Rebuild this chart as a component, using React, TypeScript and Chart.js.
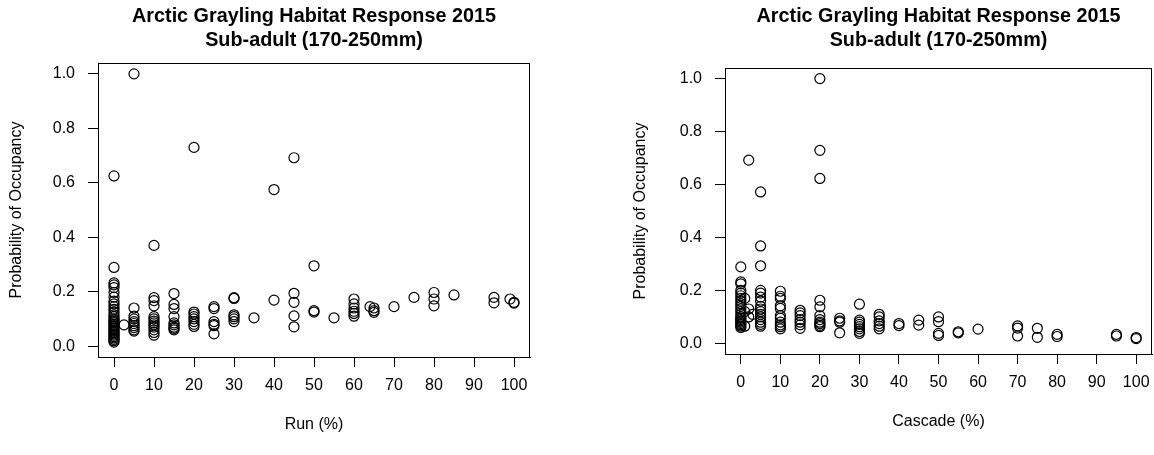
import React, { useEffect, useRef } from "react";
import { Chart, registerables } from "chart.js";

Chart.register(...registerables);

const FONT = '"Liberation Sans", Arial, Helvetica, sans-serif';

const titleLines = ["Arctic Grayling Habitat Response 2015", "Sub-adult (170-250mm)"];
const yAxisTitle = "Probability of Occupancy";
const runTitle = "Run (%)";
const cascadeTitle = "Cascade (%)";
const xTicks = [0, 10, 20, 30, 40, 50, 60, 70, 80, 90, 100];
const yTicks = [0, 0.2, 0.4, 0.6, 0.8, 1.0];

// Run (%) panel: x levels and the probabilities observed at each level
const runLevels = [0, 2.5, 5, 10, 15, 20, 25, 30, 35, 40, 45, 50, 55, 60, 64, 65, 70, 75, 80, 85, 95, 99, 100];
const runProbs = [
  [0.625, 0.289, 0.232, 0.225, 0.215, 0.197, 0.18, 0.165, 0.155, 0.145, 0.135, 0.125, 0.115, 0.108, 0.1, 0.095, 0.09, 0.085, 0.08, 0.075, 0.07, 0.065, 0.06, 0.055, 0.05, 0.045, 0.04, 0.035, 0.03, 0.025, 0.02, 0.015],
  [0.078],
  [1.0, 0.14, 0.11, 0.1, 0.09, 0.083, 0.075, 0.068, 0.06, 0.055],
  [0.37, 0.178, 0.167, 0.148, 0.108, 0.1, 0.092, 0.085, 0.078, 0.07, 0.06, 0.05, 0.04],
  [0.193, 0.153, 0.138, 0.108, 0.085, 0.078, 0.07, 0.065, 0.06],
  [0.73, 0.125, 0.118, 0.108, 0.1, 0.09, 0.08, 0.072],
  [0.145, 0.138, 0.09, 0.08, 0.075, 0.045],
  [0.178, 0.175, 0.115, 0.108, 0.1, 0.09],
  [0.104],
  [0.575, 0.169],
  [0.692, 0.194, 0.161, 0.111, 0.071],
  [0.295, 0.13, 0.125],
  [0.104],
  [0.173, 0.155, 0.14, 0.128, 0.12, 0.11],
  [0.145],
  [0.14, 0.13, 0.124],
  [0.145],
  [0.179],
  [0.197, 0.173, 0.148],
  [0.188],
  [0.179, 0.159],
  [0.173],
  [0.161, 0.158],
];

// Cascade (%) panel
const cascadeLevels = [0, 1, 2, 3, 5, 10, 15, 20, 25, 30, 35, 40, 45, 50, 55, 60, 70, 75, 80, 95, 100];
const cascadeProbs = [
  [0.289, 0.232, 0.225, 0.2, 0.19, 0.18, 0.17, 0.16, 0.15, 0.14, 0.13, 0.12, 0.11, 0.1, 0.095, 0.09, 0.085, 0.08, 0.075, 0.07, 0.065, 0.06],
  [0.17, 0.12, 0.065],
  [0.692, 0.13, 0.1],
  [0.11],
  [0.572, 0.368, 0.293, 0.2, 0.19, 0.175, 0.16, 0.14, 0.13, 0.12, 0.11, 0.1, 0.09, 0.08, 0.072, 0.065],
  [0.197, 0.178, 0.17, 0.142, 0.132, 0.105, 0.095, 0.08, 0.07, 0.063, 0.055],
  [0.125, 0.115, 0.105, 0.09, 0.08, 0.07, 0.057],
  [1.0, 0.729, 0.623, 0.163, 0.138, 0.105, 0.09, 0.08, 0.075, 0.068, 0.063],
  [0.095, 0.085, 0.08, 0.04],
  [0.148, 0.088, 0.08, 0.072, 0.063, 0.055, 0.045, 0.038],
  [0.11, 0.1, 0.085, 0.075, 0.065, 0.055],
  [0.075, 0.067],
  [0.088, 0.069],
  [0.1, 0.082, 0.038, 0.03],
  [0.044, 0.04],
  [0.054],
  [0.066, 0.058, 0.028],
  [0.057, 0.023],
  [0.034, 0.026],
  [0.034, 0.028],
  [0.022, 0.018],
];

function toPoints(levels: number[], probs: number[][]) {
  const pts: { x: number; y: number }[] = [];
  levels.forEach((x, i) => probs[i].forEach((y) => pts.push({ x, y })));
  return pts;
}

const decorPlugin = {
  id: "decor",
  afterDraw(chart: any, _args: any, opts: any) {
    const { ctx, chartArea: a } = chart;
    ctx.save();
    ctx.strokeStyle = "#000";
    ctx.lineWidth = 1;
    ctx.strokeRect(Math.round(a.left) + 0.5, Math.round(a.top) + 0.5, Math.round(a.right - a.left) - 1, Math.round(a.bottom - a.top));
    ctx.fillStyle = "#000";
    ctx.textAlign = "center";
    ctx.textBaseline = "middle";
    const cx = (a.left + a.right) / 2;
    ctx.font = `bold ${opts.titleSize}px ${FONT}`;
    opts.titleLines.forEach((t: string, i: number) => ctx.fillText(t, cx, opts.titleY[i]));
    ctx.font = `16px ${FONT}`;
    ctx.fillText(opts.xTitle, cx, opts.xTitleY);
    ctx.translate(opts.yTitleX, (a.top + a.bottom) / 2);
    ctx.rotate(-Math.PI / 2);
    ctx.fillText(opts.yTitle, 0, 0);
    ctx.restore();
  },
};

type PanelProps = {
  left: number;
  width: number;
  height: number;
  levels: number[];
  probs: number[][];
  xTitle: string;
  padTop: number;
  padRight: number;
  yWidth: number;
  xHeight: number;
  xLabelPad: number;
  xTitleY: number;
  yTitleX: number;
};

function zeroPadding(s: any) {
  s.paddingLeft = 0;
  s.paddingRight = 0;
  s.paddingTop = 0;
  s.paddingBottom = 0;
}

function Panel(p: PanelProps) {
  const ref = useRef<HTMLCanvasElement | null>(null);
  useEffect(() => {
    if (!ref.current) return;
    const chart = new Chart(ref.current, {
      type: "scatter",
      data: {
        datasets: [
          {
            data: toPoints(p.levels, p.probs),
            pointStyle: "circle",
            pointRadius: 5,
            pointBorderWidth: 1.2,
            borderColor: "#000",
            backgroundColor: "rgba(0,0,0,0)",
            showLine: false,
          } as any,
        ],
      },
      options: {
        animation: false,
        responsive: false,
        devicePixelRatio: 1,
        events: [],
        layout: { padding: { top: p.padTop, right: p.padRight, left: 0, bottom: 0 } },
        plugins: {
          legend: { display: false },
          tooltip: { enabled: false },
          decor: {
            titleLines,
            titleSize: 19.8,
            titleY: [17, 41],
            xTitle: p.xTitle,
            xTitleY: p.xTitleY,
            yTitle: yAxisTitle,
            yTitleX: p.yTitleX,
          },
        } as any,
        scales: {
          x: {
            type: "linear",
            min: -4,
            max: 104,
            afterBuildTicks: (s: any) => {
              s.ticks = xTicks.map((v) => ({ value: v }));
            },
            afterFit: (s: any) => {
              s.height = p.xHeight;
              zeroPadding(s);
            },
            grid: { drawOnChartArea: false, drawTicks: true, tickLength: 10, color: "#000", lineWidth: 1 },
            border: { display: true, color: "#000", width: 1 },
            ticks: {
              color: "#000",
              font: { size: 16, family: FONT },
              padding: p.xLabelPad,
              maxRotation: 0,
              autoSkip: false,
              callback: (v: any) => String(v),
            },
          },
          y: {
            type: "linear",
            min: -0.04,
            max: 1.04,
            afterBuildTicks: (s: any) => {
              s.ticks = yTicks.map((v) => ({ value: v }));
            },
            afterFit: (s: any) => {
              s.width = p.yWidth;
              zeroPadding(s);
            },
            grid: { drawOnChartArea: false, drawTicks: true, tickLength: 10, color: "#000", lineWidth: 1 },
            border: { display: true, color: "#000", width: 1 },
            ticks: {
              color: "#000",
              font: { size: 16, family: FONT },
              padding: 13,
              autoSkip: false,
              callback: (v: any) => Number(v).toFixed(1),
            },
          },
        },
      },
      plugins: [decorPlugin as any],
    });
    return () => chart.destroy();
  }, []);
  return (
    <canvas
      ref={ref}
      width={p.width}
      height={p.height}
      style={{ position: "absolute", left: p.left, top: 0, width: p.width, height: p.height }}
    />
  );
}

export default function App() {
  return (
    <div
      style={{
        position: "absolute",
        left: 0,
        top: 0,
        width: 1154,
        height: 455,
        overflow: "hidden",
        background: "#fff",
      }}
    >
      <Panel
        left={0}
        width={577}
        height={455}
        levels={runLevels}
        probs={runProbs}
        xTitle={runTitle}
        padTop={63}
        padRight={47}
        yWidth={98}
        xHeight={98}
        xLabelPad={9}
        xTitleY={425}
        yTitleX={17}
      />
      <Panel
        left={577}
        width={584}
        height={455}
        levels={cascadeLevels}
        probs={cascadeProbs}
        xTitle={cascadeTitle}
        padTop={68}
        padRight={9}
        yWidth={148}
        xHeight={101}
        xLabelPad={9}
        xTitleY={422}
        yTitleX={64}
      />
    </div>
  );
}
